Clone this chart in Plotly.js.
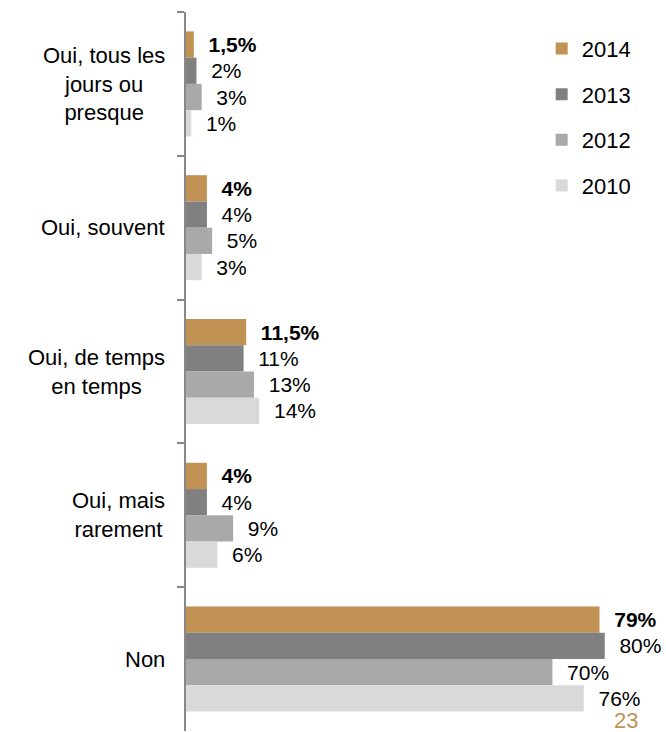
<!DOCTYPE html>
<html>
<head>
<meta charset="utf-8">
<script src="https://cdn.plot.ly/plotly-3.0.1.min.js"></script>
<style>
  body { margin: 0; background: #fff; }
  #chart { width: 666px; height: 732px; }
</style>
</head>
<body>
<div id="chart"></div>
<script>
const categories = [
  'Oui, tous les<br>jours ou<br>presque',
  'Oui, souvent',
  'Oui, de temps<br>en temps',
  'Oui, mais<br>rarement',
  'Non'
];
const years = ['2014', '2013', '2012', '2010'];
const v2014 = [1.5, 4, 11.5, 4, 79];
const v2013 = [2, 4, 11, 4, 80];
const v2012 = [3, 5, 13, 9, 70];
const v2010 = [1, 3, 14, 6, 76];
const colors = ['#c09254', '#808080', '#a9a9a9', '#d9d9d9'];
const pageNumber = '23';

const series = [v2014, v2013, v2012, v2010];
const FONT = 'Liberation Sans, Arial, sans-serif';

function fmt(v) {
  return String(v).replace('.', ',') + '%';
}

const traces = series.map((vals, i) => ({
  type: 'bar',
  orientation: 'h',
  name: years[i],
  legendgroup: years[i],
  y: categories,
  x: vals,
  marker: { color: colors[i] },
  text: vals.map(v => '\u00a0\u00a0' + (i === 0 ? '<b>' + fmt(v) + '</b>' : fmt(v))),
  textposition: 'outside',
  textfont: { family: FONT, size: 21, color: '#000' },
  constraintext: 'none',
  cliponaxis: false,
  hoverinfo: 'skip'
}));

// category labels: centered lines, right-aligned block
const catLabels = categories.map(c => ({
  xref: 'paper', yref: 'y',
  x: 0, y: c,
  xshift: -19,
  xanchor: 'right', yanchor: 'middle',
  align: 'center',
  text: c,
  showarrow: false,
  font: { family: FONT, size: 22, color: '#000' }
}));

const layout = {
  width: 666,
  height: 732,
  margin: { l: 186, r: 0, t: 12, b: 1 },
  paper_bgcolor: '#fff',
  plot_bgcolor: '#fff',
  barmode: 'group',
  bargap: 0.27,
  bargroupgap: 0,
  showlegend: true,
  legend: {
    x: 0.741, y: 0.978, xanchor: 'left', yanchor: 'top',
    font: { family: FONT, size: 22, color: '#000' },
    traceorder: 'grouped',
    tracegroupgap: 14,
    bgcolor: 'rgba(0,0,0,0)'
  },
  xaxis: {
    range: [0, 91.7],
    showgrid: false,
    zeroline: false,
    showticklabels: false,
    showline: false,
    fixedrange: true
  },
  yaxis: {
    type: 'category',
    autorange: 'reversed',
    showgrid: false,
    showticklabels: false,
    showline: true,
    linecolor: '#888',
    linewidth: 2,
    ticks: 'outside',
    tickson: 'boundaries',
    ticklen: 7,
    tickcolor: '#888',
    tickwidth: 2,
    fixedrange: true
  },
  annotations: catLabels.concat([{
    xref: 'paper', yref: 'paper',
    x: 0.917, y: 0,
    xanchor: 'center', yanchor: 'bottom',
    yshift: -3,
    borderpad: 0,
    text: pageNumber,
    showarrow: false,
    font: { family: FONT, size: 22, color: '#c09254' }
  }])
};

Plotly.newPlot('chart', traces, layout, { displayModeBar: false, staticPlot: true });
</script>
</body>
</html>
